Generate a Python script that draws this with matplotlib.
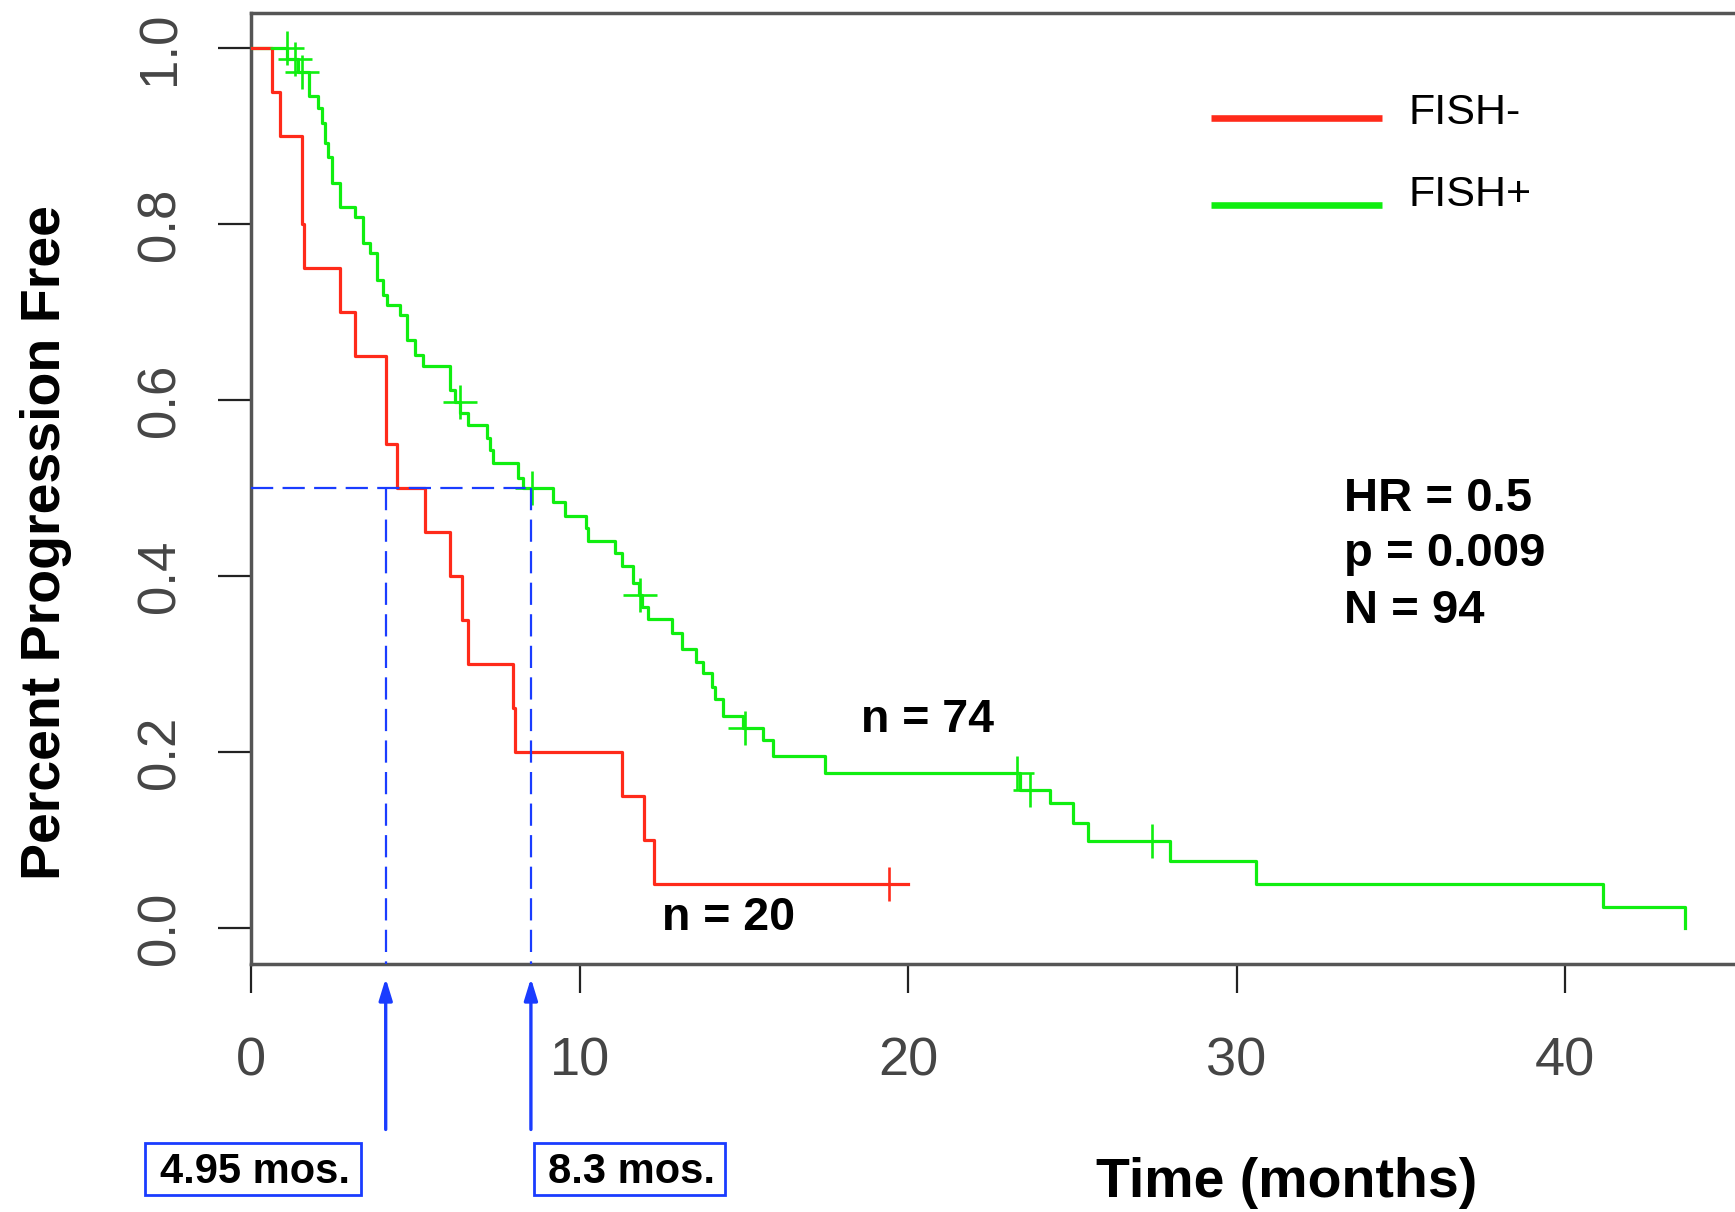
import matplotlib
matplotlib.use('Agg')
import matplotlib.pyplot as plt
from matplotlib.patches import Rectangle

plt.rcParams['font.family'] = ['Liberation Sans', 'DejaVu Sans']

# ---------------- data ----------------
red_t = [0, 0.63, 0.88, 1.54, 1.61, 2.71, 3.17, 4.11, 4.43, 5.31, 6.06, 6.43, 6.60,
         7.96, 8.04, 11.29, 11.96, 12.28, 19.99]
red_s = [1.0, 0.95, 0.90, 0.80, 0.75, 0.70, 0.65, 0.55, 0.50, 0.45, 0.40, 0.35, 0.30,
         0.25, 0.20, 0.15, 0.10, 0.05, 0.05]
red_cens_t = [19.43]
red_cens_s = [0.05]

green_t = [0, 1.10, 1.42, 1.78, 2.05, 2.15, 2.25, 2.35, 2.455, 2.71, 3.165, 3.42, 3.62,
           3.825, 4.03, 4.13, 4.535, 4.74, 4.99, 5.245, 6.06, 6.20, 6.36, 6.615, 7.17,
           7.27, 7.38, 8.14, 8.27, 9.20, 9.557, 10.196, 10.27, 11.08, 11.28, 11.64, 11.80,
           11.89, 12.09, 12.80, 13.11, 13.56, 13.77, 14.02, 14.12, 14.38, 14.97, 15.57,
           15.88, 17.48, 23.40, 24.31, 25.02, 25.48, 27.97, 30.60, 41.15, 43.64]
green_s = [1.0, 0.987, 0.973, 0.945, 0.9315, 0.9144, 0.8917, 0.8765, 0.8462, 0.8197,
           0.8083, 0.778, 0.7667, 0.7364, 0.7193, 0.708, 0.6966, 0.668, 0.651, 0.6386,
           0.611, 0.598, 0.5848, 0.5716, 0.5564, 0.543, 0.5284, 0.511, 0.500, 0.4845,
           0.468, 0.4545, 0.4402, 0.4258, 0.4114, 0.392, 0.378, 0.365, 0.351, 0.3356,
           0.3167, 0.3027, 0.2894, 0.2742, 0.2598, 0.2409, 0.227, 0.2136, 0.195, 0.1758,
           0.1568, 0.1417, 0.1189, 0.0992, 0.0767, 0.0496, 0.0242, 0.0]
green_cens_t = [1.09, 1.35, 1.55, 6.36, 8.54, 11.84, 15.05, 23.31, 23.71, 27.43]
green_cens_s = [1.0, 0.987, 0.973, 0.598, 0.500, 0.378, 0.227, 0.1758, 0.1568, 0.0992]

median_t = [4.1, 8.52]
median_s = 0.5
median_labels = ['4.95 mos.', '8.3 mos.']

x_ticks = [0, 10, 20, 30, 40]
x_tick_labels = ['0', '10', '20', '30', '40']
y_ticks = [0.0, 0.2, 0.4, 0.6, 0.8, 1.0]
y_tick_labels = ['0.0', '0.2', '0.4', '0.6', '0.8', '1.0']

group_labels = ['FISH-', 'FISH+']
n_labels = ['n = 20', 'n = 74']
stats_lines = ['HR = 0.5', 'p = 0.009', 'N = 94']

# ---------------- styles ----------------
RED = '#ff2a1a'
GREEN = '#10ee10'
BLUE = '#1a3cff'
W, H = 1735, 1212

fig = plt.figure(figsize=(W / 100, H / 100), dpi=100)
ax = fig.add_axes([251 / W, 1 - 964 / H, (W - 251) / W, 951 / H])
ax.set_xlim(0, 45.17)
ax.set_ylim(-0.0409, 1.0398)

# curves
ax.step(green_t, green_s, where='post', color=GREEN, lw=2.3, zorder=3,
        label=group_labels[1])
ax.step(red_t, red_s, where='post', color=RED, lw=2.3, zorder=3,
        label=group_labels[0])
ax.plot(green_cens_t, green_cens_s, ls='none', marker='+', ms=25, mew=1.9,
        color=GREEN, zorder=4)
ax.plot(red_cens_t, red_cens_s, ls='none', marker='+', ms=25, mew=1.9,
        color=RED, zorder=4)

# median guide lines
dash = (0, (10.0, 4.2))
ax.plot([0, median_t[1]], [median_s, median_s], color=BLUE, lw=1.6, ls=dash, zorder=5)
for mt in median_t:
    ax.plot([mt, mt], [median_s, -0.0409], color=BLUE, lw=1.6, ls=dash, zorder=5)

# arrows below the axis
for mt in median_t:
    ax.annotate('', xy=(mt, -0.015), xycoords=('data', 'axes fraction'),
                xytext=(mt, -0.174), textcoords=('data', 'axes fraction'),
                arrowprops=dict(arrowstyle='-|>,head_length=0.65,head_width=0.2',
                                color=BLUE, lw=2.4, shrinkA=0, shrinkB=0,
                                mutation_scale=20),
                annotation_clip=False)

# boxes with median labels (figure pixel layout)
boxes = [(145, 1143, 216, 52), (534, 1143, 191, 52)]
text_x = [160, 548]
for (bx, by, bw, bh), tx, lab in zip(boxes, text_x, median_labels):
    fig.add_artist(Rectangle((bx / W, 1 - (by + bh) / H), bw / W, bh / H,
                             transform=fig.transFigure, fill=False, ec=BLUE, lw=2.0))
    fig.text(tx / W, 1 - 1183 / H, lab, ha='left', va='baseline', fontsize=30,
             fontweight='bold', color='black')

# annotations in the plot
ax.text(12.51, -0.002, n_labels[0], fontsize=33.5, fontweight='bold', va='baseline')
ax.text(18.57, 0.2227, n_labels[1], fontsize=33.5, fontweight='bold', va='baseline')
for yv, s in zip([0.474, 0.411, 0.3466], stats_lines):
    ax.text(33.27, yv, s, fontsize=34, fontweight='bold', va='baseline')

# legend (drawn as key lines + labels in axes-fraction layout)
legend_colors = [RED, GREEN]
key_y = [0.8896, 0.7976]
lab_y = [0.8832, 0.7972]
for col, ky, ly, lab in zip(legend_colors, key_y, lab_y, group_labels):
    ax.plot([0.6469, 0.7621], [ky, ky], transform=ax.transAxes, color=col, lw=4.75,
            solid_capstyle='butt', clip_on=False)
    ax.text(0.7803, ly, lab, transform=ax.transAxes, fontsize=31, va='baseline',
            ha='left', color='black')

# axes styling
ax.set_xticks(x_ticks)
ax.set_xticklabels(x_tick_labels)
ax.set_yticks(y_ticks)
ax.set_yticklabels(y_tick_labels)
ax.tick_params(axis='x', direction='out', length=21, width=1.6, color='#222222',
               pad=31, labelsize=39, labelcolor='#454545')
ax.tick_params(axis='y', direction='out', length=24, width=1.6, color='#222222',
               pad=23, labelsize=38, labelcolor='#454545', labelrotation=90)
for lbl in ax.get_yticklabels():
    lbl.set_va('center')
for s in ['left', 'bottom', 'top']:
    ax.spines[s].set_linewidth(2.5)
    ax.spines[s].set_color('#555555')
ax.spines['right'].set_visible(False)

fig.text(46 / W, 1 - 543 / H, 'Percent Progression Free', rotation=90, ha='center',
         va='center', fontsize=40, fontweight='bold')
fig.text(1287 / W, 1 - 1197 / H, 'Time (months)', ha='center', va='baseline',
         fontsize=40, fontweight='bold')

fig.savefig('out.png', dpi=100)
